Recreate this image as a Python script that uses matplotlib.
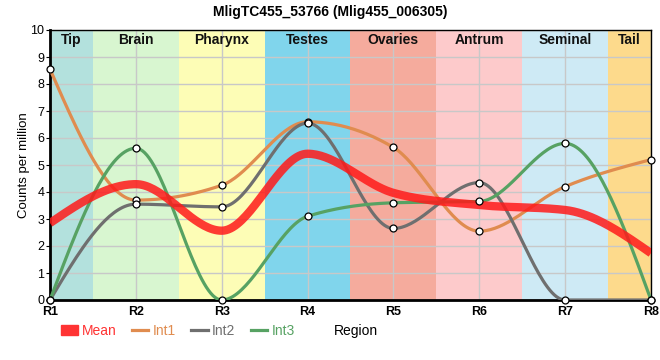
import numpy as np
import matplotlib
matplotlib.use("Agg")
import matplotlib.pyplot as plt
from matplotlib.lines import Line2D
from matplotlib.patches import Patch

plt.rcParams['font.family'] = ['Liberation Sans', 'DejaVu Sans']

regions = ["R1", "R2", "R3", "R4", "R5", "R6", "R7", "R8"]
tissues = ["Tip", "Brain", "Pharynx", "Testes", "Ovaries", "Antrum", "Seminal", "Tail"]
tissue_colors = ["#b3e1dd", "#d8f6d0", "#fdfdb6", "#80d5ec", "#f5ab9d", "#fdcacb", "#ceeaf5", "#fdda8c"]
int1 = [8.55, 3.70, 4.25, 6.60, 5.65, 2.55, 4.20, 5.20]
int2 = [0.00, 3.55, 3.45, 6.55, 2.65, 4.35, 0.00, 0.00]
int3 = [0.00, 5.62, 0.00, 3.10, 3.60, 3.65, 5.80, 0.00]
mean = list(np.mean([int1, int2, int3], axis=0))


def monotone_x(xs, ys, n=40):
    xs = np.asarray(xs, float); ys = np.asarray(ys, float)
    m = len(xs)
    h = np.diff(xs); s = np.diff(ys) / h
    t = np.zeros(m)
    for i in range(1, m - 1):
        h0, h1 = h[i - 1], h[i]
        s0, s1 = s[i - 1], s[i]
        p = (s0 * h1 + s1 * h0) / (h0 + h1)
        t[i] = (np.sign(s0) + np.sign(s1)) * min(abs(s0), abs(s1), 0.5 * abs(p))
    t[0] = (3 * s[0] - t[1]) / 2
    t[-1] = (3 * s[-1] - t[-2]) / 2
    X, Y = [], []
    u = np.linspace(0, 1, n)
    for i in range(m - 1):
        x0, x1 = xs[i], xs[i + 1]; y0, y1 = ys[i], ys[i + 1]
        dx = (x1 - x0) / 3
        px = [x0, x0 + dx, x1 - dx, x1]
        py = [y0, y0 + dx * t[i], y1 - dx * t[i + 1], y1]
        b = [(1 - u) ** 3, 3 * u * (1 - u) ** 2, 3 * u ** 2 * (1 - u), u ** 3]
        X.append(sum(bb * p for bb, p in zip(b, px)))
        Y.append(sum(bb * p for bb, p in zip(b, py)))
    return np.concatenate(X), np.concatenate(Y)


fig = plt.figure(figsize=(6.6, 3.6), dpi=100)
ax = fig.add_axes([50 / 660, 1 - 300 / 360, 601 / 660, 270 / 360])
x = np.arange(len(regions))
ax.set_xlim(0, len(regions) - 1)
ax.set_ylim(0, 10)

for i, (name, c) in enumerate(zip(tissues, tissue_colors)):
    lo = max(i - 0.5, 0); hi = min(i + 0.5, len(regions) - 1)
    ax.axvspan(lo, hi, color=c, lw=0, zorder=0)
    ax.text((lo + hi) / 2, 9.62, name, ha='center', va='center', fontsize=10,
            fontweight='bold', color='#111111', zorder=6)

ax.set_yticks(range(0, 11))
ax.set_xticks(x)
ax.set_xticklabels(regions, fontweight='bold', fontsize=9)
ax.tick_params(axis='y', labelsize=9, length=3, pad=1)
ax.tick_params(axis='x', length=0, pad=4)
ax.grid(True, color='#c8c8c8', lw=1, zorder=1)
ax.set_axisbelow(True)
for sp in ['left', 'bottom']:
    ax.spines[sp].set_linewidth(2)
for sp in ['top', 'right']:
    ax.spines[sp].set_linewidth(1)
ax.set_ylabel("Counts per million", fontsize=9.5, labelpad=0)

colors = {"Int1": "#e08c4f", "Int2": "#6f6f6f", "Int3": "#57a263"}
for name, vals in [("Int1", int1), ("Int2", int2), ("Int3", int3)]:
    X, Y = monotone_x(x, vals)
    ax.plot(X, Y, color=colors[name], lw=2.3, zorder=3, solid_capstyle='butt')
X, Y = monotone_x(x, mean)
ax.plot(X, Y, color='#ff1a1a', lw=6, alpha=0.85, zorder=4, solid_capstyle='butt')
for vals in [int1, int2, int3]:
    ax.plot(x, vals, 'o', ms=5, mfc='white', mec='black', mew=0.9, zorder=5, clip_on=False)

fig.suptitle("MligTC455_53766 (Mlig455_006305)", x=0.5, y=0.985, fontsize=10, fontweight='bold')

handles = [Patch(color='#ff3333'),
           Line2D([], [], color=colors['Int1'], lw=2.3),
           Line2D([], [], color=colors['Int2'], lw=2.3),
           Line2D([], [], color=colors['Int3'], lw=2.3)]
labels = ["Mean", "Int1", "Int2", "Int3"]
leg = fig.legend(handles, labels, loc='center left', bbox_to_anchor=(54 / 660, 1 - 331 / 360),
                 ncol=4, frameon=False, fontsize=10, handlelength=1.2, handletextpad=0.3,
                 columnspacing=1.1, borderpad=0)
for txt, c in zip(leg.get_texts(), ['#ff3333', colors['Int1'], colors['Int2'], colors['Int3']]):
    txt.set_color(c)
fig.text(356 / 660, 1 - 331 / 360, "Region", ha='center', va='center', fontsize=10)

fig.savefig("out.png", dpi=100)
